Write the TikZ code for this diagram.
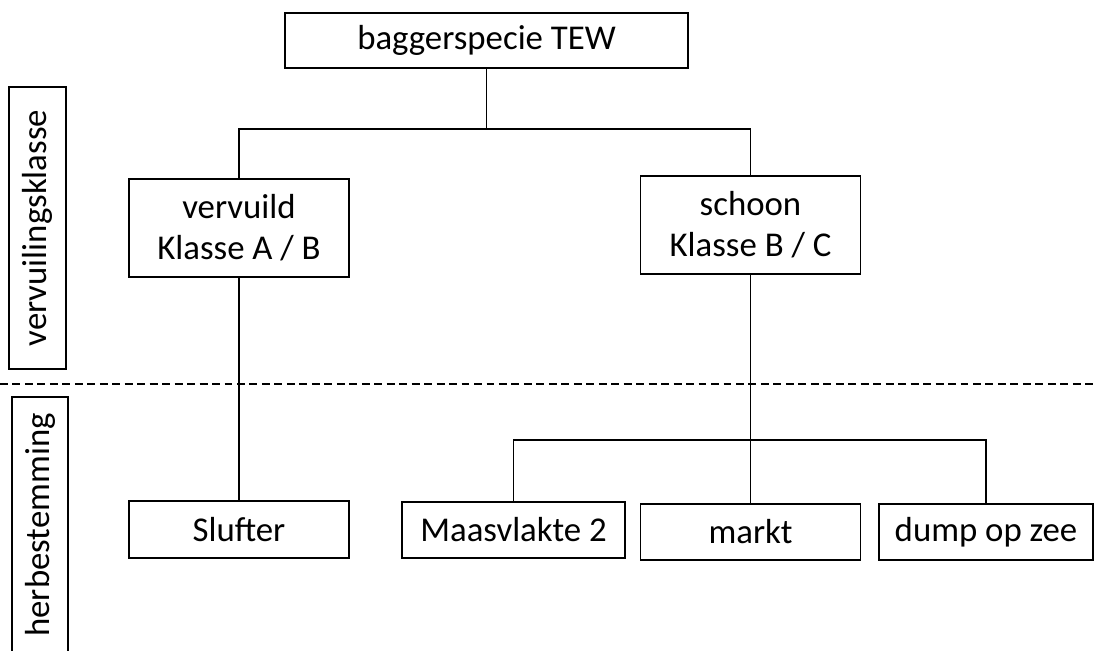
\documentclass[tikz,border=0pt]{standalone}
\usepackage{fontspec}
\setmainfont{Carlito}
\usepackage{tikz}

\begin{document}
\begin{tikzpicture}[x=0.02cm,y=-0.02cm,line width=0.9pt,
    box/.style={draw,inner sep=0pt,align=center,font=\fontsize{19.8}{23.5}\selectfont,minimum width=4.4cm,minimum height=1.12cm},
    sidebox/.style={box,rotate=90,minimum height=1.13cm}]
        \clip (0,0) rectangle (1097,650);
        % bovenste niveau
        \node[box,minimum width=8.06cm,minimum height=1.1cm] (bagger) at (486.5,40.5) {baggerspecie TEW};
        \node[box,minimum height=1.96cm] (vervuild) at (239,228) {vervuild\\Klasse A / B};
        \node[box,minimum height=1.96cm] (schoon) at (750.5,225) {schoon\\Klasse B / C};
        % herbestemming
        \node[box,minimum height=1.14cm] (slufter) at (239,529.5) {Slufter};
        \node[box,minimum width=4.46cm] (maasvlakte) at (513.5,530) {Maasvlakte 2};
        \node[box] (markt) at (750.5,532) {markt};
        \node[box,minimum width=4.28cm] (dump) at (986,532) {dump op zee};
        % zijlabels
        \node[sidebox,minimum width=5.64cm] (klasse) at (37.5,228) {vervuilingsklasse};
        \node[sidebox,minimum width=5.12cm] (bestemming) at (40,525) {herbestemming};
        \coordinate (splitTop) at (486.5,129);
        \coordinate (splitLow) at (750.5,440);
        \coordinate (dashL) at (0,384);
        \coordinate (dashR) at (1097,384);
        \draw[dash pattern=on 4.5pt off 2.6pt] (dashL) -- (dashR);
        \draw (bagger) -- (splitTop) -| (vervuild);
        \draw (splitTop) -| (schoon);
        \draw (vervuild) -- (slufter);
        \draw (schoon) -- (markt);
        \draw (maasvlakte) |- (splitLow) -| (dump);
      \end{tikzpicture}
\end{document}
